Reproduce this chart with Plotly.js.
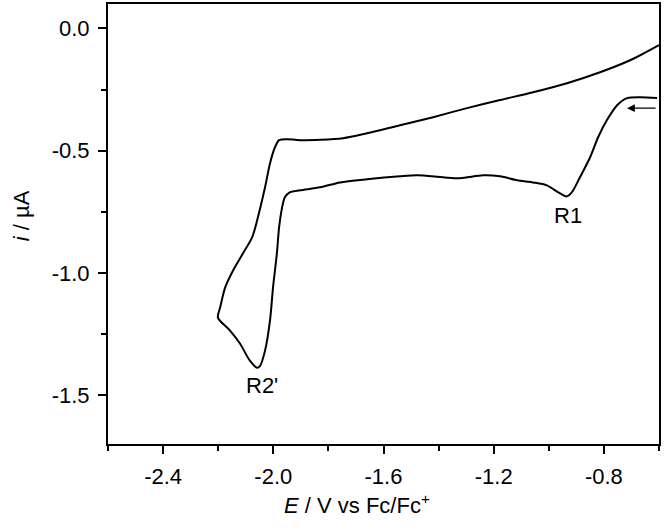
<!DOCTYPE html>
<html>
<head>
<meta charset="utf-8">
<script src="https://cdn.plot.ly/plotly-3.0.1.min.js"></script>
<style>
  html, body { margin: 0; padding: 0; background: #fff; }
  #cv { width: 666px; height: 528px; }
</style>
</head>
<body>
<div id="cv"></div>
<script>
// Cyclic voltammogram, scan starts at the right and runs negative first

// potential (V vs Fc/Fc+)
const potential = [
    -0.607, -0.669, -0.716, -0.752, -0.789, -0.821, -0.850, -0.887, -0.916, -0.934,
    -0.959, -1.007, -1.057, -1.115, -1.177, -1.239, -1.322, -1.384, -1.478, -1.540,
    -1.660, -1.758, -1.830, -1.903, -1.939, -1.958, -1.968, -1.979, -1.987, -2.001,
    -2.012, -2.030, -2.048, -2.059, -2.085, -2.121, -2.157, -2.201,
    -2.193, -2.175, -2.146, -2.110, -2.077, -2.056, -2.030, -2.012, -1.994, -1.979,
    -1.950, -1.903, -1.747, -1.660, -1.540, -1.420, -1.297, -1.177, -1.057, -0.934,
    -0.814, -0.705, -0.600
];

// current (uA)
const current = [
    -0.285, -0.281, -0.285, -0.314, -0.375, -0.445, -0.527, -0.609, -0.670, -0.687,
    -0.675, -0.642, -0.630, -0.621, -0.605, -0.601, -0.613, -0.609, -0.601, -0.605,
    -0.617, -0.630, -0.650, -0.662, -0.670, -0.691, -0.732, -0.814, -0.920, -1.060,
    -1.195, -1.318, -1.380, -1.388, -1.359, -1.289, -1.236, -1.183,
    -1.142, -1.060, -0.990, -0.920, -0.855, -0.773, -0.650, -0.552, -0.486, -0.457,
    -0.453, -0.457, -0.449, -0.429, -0.396, -0.363, -0.326, -0.293, -0.261, -0.224,
    -0.179, -0.130, -0.068
];

// tick labels (plain hyphen as in the original)
const xTickVals = [-2.4, -2.0, -1.6, -1.2, -0.8];
const xTickText = ['-2.4', '-2.0', '-1.6', '-1.2', '-0.8'];
const yTickVals = [0, -0.5, -1.0, -1.5];
const yTickText = ['0.0', '-0.5', '-1.0', '-1.5'];

// peak labels
const peakNames = ["R2'", "R1"];
const peakX = [-2.041, -0.930];
const peakY = [-1.46, -0.765];

// scan direction arrow
const arrowTail = [-0.607, -0.326];
const arrowHead = [-0.716, -0.326];

const font = { family: 'Liberation Sans, Arial, sans-serif', size: 22, color: '#000' };

const data = [{
    x: potential,
    y: current,
    type: 'scatter',
    mode: 'lines',
    line: { color: '#000', width: 2, shape: 'spline', smoothing: 0.8 },
    hoverinfo: 'x+y'
}];

const annotations = peakNames.map((name, k) => ({
    x: peakX[k], y: peakY[k], xref: 'x', yref: 'y',
    text: name, showarrow: false, font: font
}));

annotations.push({
    x: arrowHead[0], y: arrowHead[1], ax: arrowTail[0], ay: arrowTail[1],
    xref: 'x', yref: 'y', axref: 'x', ayref: 'y',
    text: '', showarrow: true, arrowhead: 2, arrowsize: 1.2, arrowwidth: 1.3, arrowcolor: '#000'
});

// axis titles as annotations so they sit where the original has them
annotations.push({
    x: 0.452, y: -0.136, xref: 'paper', yref: 'paper', xanchor: 'center', yanchor: 'middle',
    text: '<i>E</i> / V vs Fc/Fc<sup>+</sup>', showarrow: false, font: font
});
annotations.push({
    x: -0.158, y: 0.52, xref: 'paper', yref: 'paper', xanchor: 'center', yanchor: 'middle',
    text: '<i>i</i> / µA', textangle: -90, showarrow: false, font: font
});

const axisCommon = {
    showline: true, linecolor: '#000', linewidth: 2, mirror: true,
    ticks: 'outside', ticklen: 8, tickwidth: 2, tickcolor: '#000', ticklabelstandoff: 4,
    showgrid: false, zeroline: false, tickfont: font
};

const layout = {
    width: 666, height: 528,
    margin: { l: 108, r: 7, t: 4, b: 84 },
    paper_bgcolor: '#fff', plot_bgcolor: '#fff',
    showlegend: false,
    font: font,
    xaxis: Object.assign({}, axisCommon, {
        range: [-2.6, -0.6], tickmode: 'array', tickvals: xTickVals, ticktext: xTickText,
        minor: { dtick: 0.2, tick0: -2.4, ticks: 'outside', ticklen: 5, tickwidth: 2, tickcolor: '#000' }
    }),
    yaxis: Object.assign({}, axisCommon, {
        range: [-1.7, 0.1], tickmode: 'array', tickvals: yTickVals, ticktext: yTickText,
        minor: { dtick: 0.25, tick0: 0, ticks: 'outside', ticklen: 5, tickwidth: 2, tickcolor: '#000' }
    }),
    annotations: annotations
};

Plotly.newPlot('cv', data, layout, { displayModeBar: false, staticPlot: true });
</script>
</body>
</html>
